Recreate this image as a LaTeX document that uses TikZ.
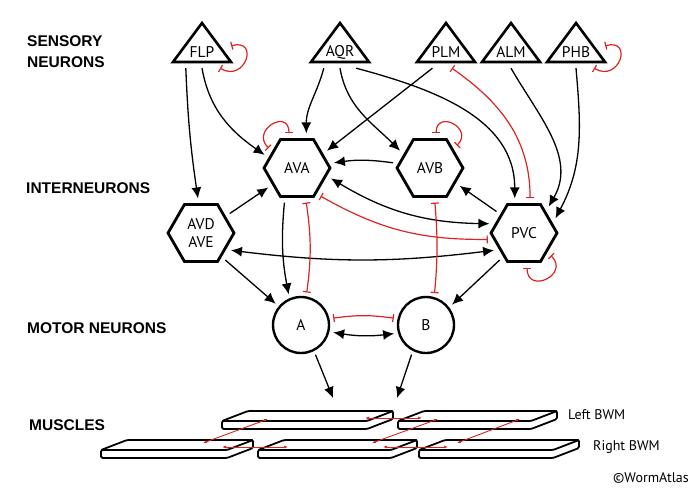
\documentclass[tikz,border=0pt]{standalone}
\usepackage{fontspec}
\setmainfont{PT Sans}
\newfontfamily\tierfont{Liberation Sans}
\usetikzlibrary{arrows.meta,shapes.geometric}
\definecolor{wormred}{HTML}{DD2420}
\tikzset{
  base/.style={font=\fontsize{15.5}{18}\selectfont,align=center,inner sep=0pt},
  sensory/.style={base,minimum width=58pt,minimum height=32pt},
  inter/.style={base,regular polygon,regular polygon sides=6,minimum size=66pt,draw,line width=2.8pt,fill=white,outer sep=6pt},
  motor/.style={base,circle,minimum size=56pt,draw,line width=2.4pt,outer sep=5pt},
  tri/.style={line width=2.6pt,line join=miter},
  tier/.style={font=\tierfont\fontsize{15.5}{21}\selectfont\bfseries,align=left,anchor=west,inner sep=0pt},
  bwmlabel/.style={font=\fontsize{14}{16}\selectfont,anchor=west,inner sep=0pt},
  flow/.style={-{Latex[length=11pt,width=10pt]},line width=1.3pt},
  mutual/.style={{Latex[length=11pt,width=10pt]}-{Latex[length=11pt,width=10pt]},line width=1.3pt},
  inhib/.style={{Bar[width=8pt]}-{Bar[width=8pt]},line width=1.2pt,draw=wormred},
  junction/.style={{Latex[length=4pt,width=3pt]}-{Latex[length=4pt,width=3pt]},line width=0.9pt,draw=wormred},
  muscle/.style={line width=1.8pt,line join=round,rounded corners=1.5pt}
}
% one body wall muscle slab: front-left x, front-top y, front length
\newcommand{\bwm}[3]{%
  \filldraw[muscle,fill=white] (#1,-#2) -- ++(26,10) -- ++(#3,0) -- ++(0,-8) -- ++(-26,-10) -- ++(-#3,0) -- cycle;
  \draw[muscle] (#1,-#2) -- ++(#3,0) -- ++(26,10);
}

\begin{document}
\begin{tikzpicture}[x=1pt,y=1pt]
\useasboundingbox (0,0) rectangle (700,-491);

% layer titles
\node[tier] (senslab) at (27,-52) {SENSORY\\NEURONS};
\node[tier] (interlab) at (26,-188) {INTERNEURONS};
\node[tier] (motorlab) at (27,-328) {MOTOR NEURONS};
\node[tier] (musclab) at (29,-425) {MUSCLES};

% sensory neurons
\foreach \nm/\x in {FLP/202,AQR/340,PLM/446,ALM/511,PHB/576}{
  \draw[tri] (\x-29,-62) -- (\x,-23) -- (\x+29,-62) -- cycle;
  \node[sensory] (\nm) at (\x,-52) {\nm};
}

% interneurons
\node[inter] (AVA) at (297,-168) {AVA};
\node[inter] (AVB) at (430,-168) {AVB};
\node[inter] (AVDE) at (201,-233) {AVD\\AVE};
\node[inter] (PVC) at (524,-233) {PVC};

% motor neurons
\node[motor] (A) at (301,-325) {A};
\node[motor] (B) at (426,-325) {B};

% sensory -> interneurons
\draw[flow] (FLP.-135) to[bend right=3] (AVDE.95);
\draw[flow] (FLP.south) to[out=-80,in=145] (AVA.158);
\draw[inhib] (FLP.12) to[out=15,in=-30,looseness=3] (FLP.-42);
\draw[flow] (AQR.-135) to[out=-105,in=90] (AVA.75);
\draw[flow] (AQR.south) to[out=-80,in=135] (AVB.150);
\draw[flow] (AQR.-45) to[out=-15,in=90] (PVC.105);
\draw[flow] (PLM.-130) -- (AVA.30);
\draw[inhib] (PLM.-70) to[out=-35,in=90] (PVC.80);
\draw[flow] (ALM.south) to[out=-60,in=60] (PVC.47);
\draw[flow] (PHB.south) to[out=-85,in=62] (PVC.25);
\draw[inhib] (PHB.12) to[out=15,in=-30,looseness=3] (PHB.-42);

% interneuron circuit
\draw[inhib] (AVA.103) to[out=90,in=135,looseness=2.6] (AVA.145);
\draw[inhib] (AVB.80) to[out=90,in=45,looseness=2.6] (AVB.40);
\draw[inhib] (PVC.-85) to[out=-90,in=-45,looseness=2.6] (PVC.-40);
\draw[flow] (AVB) to[bend right=8] (AVA);
\draw[flow] (AVDE) -- (AVA);
\draw[mutual] (AVA.-17) to[bend right=15] (PVC.165);
\draw[inhib] (AVA.-50) to[bend right=15] (PVC.190);
\draw[mutual] (AVDE.-30) to[bend right=7] (PVC.210);
\draw[flow] (PVC.142) -- (AVB.-31);

% interneurons -> motor neurons
\draw[flow] (AVA.-110) to[bend right=8] (A.112);
\draw[inhib] (AVA.-75) to[bend left=8] (A.80);
\draw[inhib] (AVB.-82) to[bend left=5] (B.75);
\draw[flow] (AVDE.-48) -- (A.140);
\draw[flow] (PVC.228) -- (B.38);
\draw[mutual] (A.-13) to[bend right=8] (B.195);
\draw[inhib] (A.12) to[bend left=8] (B.168);

% muscles
\bwm{222}{421}{145}
\bwm{398}{421}{133}
\bwm{101}{450}{126}
\bwm{258}{450}{133}
\bwm{419}{450}{134}
\draw[junction] (268,-419) -- (203,-443);
\draw[junction] (365,-418) -- (422,-418);
\draw[junction] (222,-447) -- (288,-447);
\draw[junction] (438,-419) -- (372,-443);
\draw[junction] (383,-447) -- (448,-447);
\draw[junction] (520,-419) -- (457,-443);

\coordinate (musL) at (333,-398);
\coordinate (musR) at (397,-398);
\draw[flow] (A.-64) -- (musL);
\draw[flow] (B.-116) -- (musR);

\node[bwmlabel] (leftlab) at (568,-415) {Left BWM};
\node[bwmlabel] (rightlab) at (593,-447) {Right BWM};
\node[bwmlabel] (credit) at (613,-478) {©WormAtlas};
\end{tikzpicture}
\end{document}
